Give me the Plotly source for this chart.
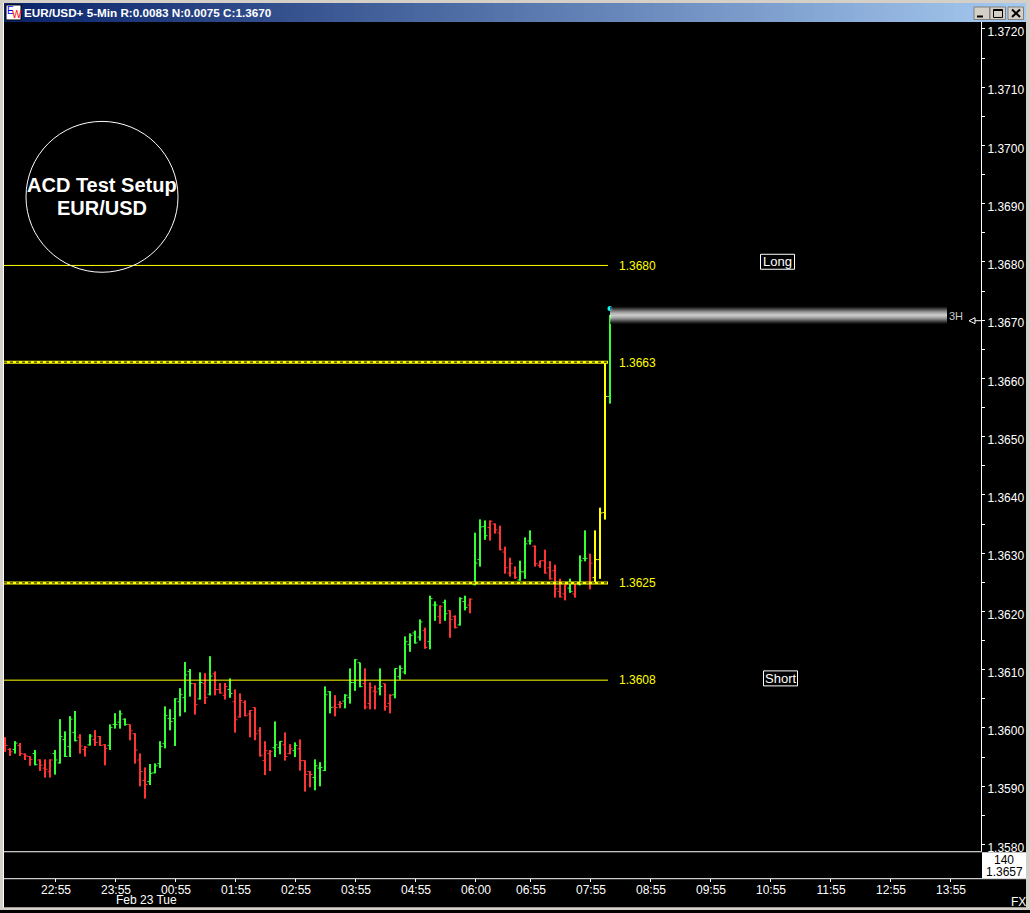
import plotly.graph_objects as go

W, H = 1030, 913
FONT = "Liberation Sans"

# ---------- data ----------
bar_colors = list("rrgrrrgrrr" "gggggrrgrr" "rggggrrrrg" "ggggggggrg" "rgrrrgrrrr"
                  "rrrrggrrgr" "rrggggrrgg" "ggrrrgrrgg" "ggggrggrgr" "rggrgggrrr"
                  "rrrgggrrrr" "rrrgrggryy" "yg")

highs = [1.35984,1.35965,1.35977,1.35974,1.35956,1.35951,1.35962,1.35946,1.35946,1.35946,
         1.35962,1.36015,1.35994,1.36020,1.36029,1.35989,1.35969,1.35989,1.35996,1.35986,
         1.35972,1.36006,1.36025,1.36030,1.36016,1.36006,1.35991,1.35956,1.35932,1.35938,
         1.35939,1.35977,1.36037,1.36032,1.36051,1.36068,1.36113,1.36101,1.36077,1.36095,
         1.36094,1.36123,1.36097,1.36077,1.36077,1.36085,1.36066,1.36059,1.36047,1.36030,
         1.36035,1.36001,1.35977,1.35962,1.36011,1.35977,1.35992,1.35972,1.35975,1.35980,
         1.35944,1.35926,1.35946,1.35941,1.36071,1.36063,1.36056,1.36046,1.36058,1.36102,
         1.36118,1.36112,1.36102,1.36078,1.36073,1.36102,1.36076,1.36058,1.36102,1.36107,
         1.36157,1.36162,1.36167,1.36186,1.36172,1.36227,1.36217,1.36210,1.36220,1.36202,
         1.36193,1.36224,1.36227,1.36222,1.36335,1.36358,1.36356,1.36356,1.36351,1.36347,
         1.36311,1.36292,1.36277,1.36287,1.36327,1.36339,1.36313,1.36287,1.36306,1.36286,
         1.36280,1.36256,1.36246,1.36256,1.36250,1.36296,1.36339,1.36299,1.36339,1.36378,
         1.36627,1.36709]
lows = [1.35959,1.35952,1.35956,1.35952,1.35945,1.35935,1.35936,1.35926,1.35915,1.35915,
        1.35920,1.35939,1.35950,1.35950,1.35977,1.35956,1.35951,1.35970,1.35969,1.35969,
        1.35936,1.35962,1.35999,1.35999,1.36004,1.35979,1.35939,1.35900,1.35879,1.35902,
        1.35922,1.35931,1.35965,1.35996,1.35969,1.36020,1.36027,1.36054,1.36023,1.36049,
        1.36041,1.36056,1.36056,1.36059,1.36049,1.36052,1.35992,1.36018,1.36020,1.35984,
        1.35979,1.35951,1.35919,1.35926,1.35950,1.35955,1.35944,1.35955,1.35950,1.35927,
        1.35891,1.35898,1.35893,1.35900,1.35926,1.36025,1.36020,1.36034,1.36034,1.36042,
        1.36064,1.36070,1.36032,1.36032,1.36032,1.36056,1.36030,1.36025,1.36051,1.36083,
        1.36092,1.36131,1.36145,1.36150,1.36136,1.36135,1.36184,1.36179,1.36184,1.36155,
        1.36171,1.36176,1.36202,1.36197,1.36245,1.36277,1.36323,1.36322,1.36334,1.36305,
        1.36265,1.36260,1.36256,1.36253,1.36256,1.36315,1.36277,1.36275,1.36265,1.36255,
        1.36224,1.36224,1.36219,1.36232,1.36224,1.36245,1.36286,1.36238,1.36249,1.36256,
        1.36358,1.36557]
opens = [1.35980,1.35963,1.35963,1.35970,1.35955,1.35951,1.35956,1.35945,1.35931,1.35925,
         1.35956,1.35940,1.35980,1.35968,1.35992,1.35984,1.35963,1.35971,1.35980,1.35985,
         1.35971,1.35970,1.36006,1.36010,1.36015,1.36006,1.35990,1.35945,1.35910,1.35908,
         1.35923,1.35939,1.35973,1.36016,1.36016,1.36045,1.36052,1.36097,1.36076,1.36050,
         1.36076,1.36058,1.36093,1.36066,1.36056,1.36066,1.36045,1.36019,1.36044,1.36024,
         1.36035,1.35995,1.35944,1.35956,1.35966,1.35966,1.35971,1.35956,1.35961,1.35964,
         1.35944,1.35925,1.35915,1.35931,1.35927,1.36062,1.36036,1.36040,1.36046,1.36052,
         1.36078,1.36112,1.36076,1.36042,1.36063,1.36067,1.36076,1.36042,1.36057,1.36088,
         1.36096,1.36143,1.36163,1.36156,1.36167,1.36148,1.36211,1.36191,1.36215,1.36201,
         1.36191,1.36177,1.36217,1.36211,1.36246,1.36289,1.36346,1.36344,1.36350,1.36335,
         1.36302,1.36266,1.36266,1.36254,1.36268,1.36321,1.36312,1.36279,1.36287,1.36275,
         1.36270,1.36234,1.36230,1.36240,1.36230,1.36246,1.36291,1.36249,1.36258,1.36289,
         1.36370,1.36569]
closes = [1.35970,1.35959,1.35974,1.35956,1.35952,1.35946,1.35937,1.35936,1.35929,1.35945,
          1.35945,1.35985,1.35951,1.36015,1.35978,1.35969,1.35967,1.35986,1.35975,1.35970,
          1.35965,1.36001,1.36006,1.36024,1.36006,1.35995,1.35962,1.35925,1.35903,1.35922,
          1.35935,1.35968,1.36021,1.36011,1.36050,1.36057,1.36091,1.36076,1.36040,1.36078,
          1.36052,1.36089,1.36066,1.36060,1.36071,1.36059,1.36014,1.36047,1.36021,1.36030,
          1.35990,1.35953,1.35961,1.35960,1.35971,1.35977,1.35951,1.35964,1.35970,1.35944,
          1.35920,1.35920,1.35935,1.35932,1.36057,1.36035,1.36035,1.36042,1.36056,1.36078,
          1.36117,1.36071,1.36036,1.36069,1.36062,1.36071,1.36037,1.36056,1.36102,1.36102,
          1.36148,1.36159,1.36146,1.36182,1.36138,1.36222,1.36211,1.36209,1.36196,1.36186,
          1.36172,1.36222,1.36207,1.36221,1.36283,1.36345,1.36330,1.36355,1.36340,1.36306,
          1.36275,1.36282,1.36258,1.36268,1.36316,1.36321,1.36282,1.36287,1.36266,1.36256,
          1.36239,1.36225,1.36246,1.36234,1.36249,1.36287,1.36291,1.36283,1.36289,1.36369,
          1.36569,1.36704]

last_tick_high = 1.36720

x_tick_pos = [10, 22, 34, 46, 58, 70, 82, 94, 105, 117, 129, 141, 153, 165, 177, 189]
x_tick_labels = ["22:55","23:55","00:55","01:55","02:55","03:55","04:55","06:00",
                 "06:55","07:55","08:55","09:55","10:55","11:55","12:55","13:55"]
y_ticks = [1.3720,1.3710,1.3700,1.3690,1.3680,1.3670,1.3660,1.3650,1.3640,
           1.3630,1.3620,1.3610,1.3600,1.3590,1.3580]

thin_levels = [(1.36794, "#FFFF00", "1.3680"), (1.36082, "#FFFF00", "1.3608")]
double_levels = [(1.36628, "1.3663"), (1.36249, "1.3625")]
level_end = 120.6
glow_greys = [25,55,90,125,160,190,215,235,250,235,215,190,160,125,90,55,25]

COLORS = {"g": "#33FF33", "r": "#FF3333", "y": "#FFFF00"}

# ---------- helpers ----------
Y_FIT = 1.0024   # the photographed page came out slightly compressed vertically
def px(x): return x / W
def py(y): return max(0.0, 1 - y * Y_FIT / H)

shapes, annotations = [], []

def rect(x0, y0, x1, y1, fill, line=None, lw=1):
    shapes.append(dict(type="rect", xref="paper", yref="paper", x0=px(x0), x1=px(x1),
                       y0=py(y0), y1=py(y1), fillcolor=fill, layer="above",
                       line=dict(color=line, width=lw) if line else dict(width=0)))

def seg(x0, y0, x1, y1, color, lw=1):
    shapes.append(dict(type="line", xref="paper", yref="paper", x0=px(x0), x1=px(x1),
                       y0=py(y0), y1=py(y1), layer="above", line=dict(color=color, width=lw)))

def label(x, y, text, size=12, color="white", anchor="center", bold=False, family=FONT):
    annotations.append(dict(xref="paper", yref="paper", x=px(x), y=py(y), text=f"<b>{text}</b>" if bold else text,
                            showarrow=False, xanchor=anchor, yanchor="middle", borderpad=0, borderwidth=0,
                            font=dict(family=family, size=size, color=color)))

# ---------- traces ----------
fig = go.Figure()
idx = list(range(len(highs)))
for code, col in COLORS.items():
    ks = [k for k in idx if bar_colors[k] == code]
    fig.add_trace(go.Ohlc(x=ks, open=[opens[k] for k in ks], high=[highs[k] for k in ks],
                          low=[lows[k] for k in ks], close=[closes[k] for k in ks], tickwidth=0.5,
                          increasing=dict(line=dict(color=col, width=1)),
                          decreasing=dict(line=dict(color=col, width=1)),
                          hoverinfo="skip", showlegend=False))
    sx, sy = [], []
    for k in ks:
        sx += [k, k, None]
        sy += [lows[k], highs[k], None]
    fig.add_trace(go.Scatter(x=sx, y=sy, mode="lines", line=dict(color=col, width=2),
                             hoverinfo="skip", showlegend=False))
fig.add_trace(go.Scatter(x=[idx[-1]], y=[last_tick_high], mode="markers",
                         marker=dict(color="#00FFFF", size=5), hoverinfo="skip", showlegend=False))

# ---------- price levels ----------
def hline(price, color, width, dash="solid"):
    shapes.append(dict(type="line", xref="x", yref="y", x0=-0.2, x1=level_end, y0=price, y1=price,
                       layer="above", line=dict(color=color, width=width, dash=dash)))

for price, color, txt in thin_levels:
    hline(price, color, 1)
for price, txt in double_levels:
    hline(price, "#FFFF00", 3)
    hline(price, "#000000", 1, "3px,3px")

label(619, 266, "1.3680", color="#FFFF00", anchor="left")
label(619, 363, "1.3663", color="#FFFF00", anchor="left")
label(619, 584, "1.3625", color="#FFFF00", anchor="left")
label(619, 681, "1.3608", color="#FFFF00", anchor="left")

# ---------- drawn annotations on the chart ----------
shapes.append(dict(type="circle", xref="paper", yref="paper", x0=px(26), x1=px(178), y0=py(121.5), y1=py(272.5),
                   line=dict(color="white", width=1), layer="above"))
label(102, 185, "ACD Test Setup", size=20, bold=True)
label(102, 208, "EUR/USD", size=20, bold=True)

rect(760.5, 254.5, 794.5, 269.5, "rgba(0,0,0,0)", "white")
label(777.5, 262, "Long", size=13)
rect(763.5, 671.5, 797.5, 686.5, "rgba(0,0,0,0)", "white")
label(780.5, 679, "Short", size=13)

for i, g in enumerate(glow_greys):
    rect(610, 307 + i, 947, 308 + i, f"rgb({g},{g},{g})")
label(956, 316, "3H", size=11, color="#CCCCCC")
shapes.append(dict(type="path", xref="paper", yref="paper", layer="above",
                   path=f"M {px(969)} {py(321)} L {px(975)} {py(318)} L {px(975)} {py(324)} Z",
                   line=dict(color="white", width=1)))
seg(975, 321, 981, 321, "white")

# ---------- frame lines / side panel ----------
seg(4, 852.5, 982, 852.5, "white")
seg(4, 879.5, 1026, 879.5, "white")
rect(982, 853, 1026, 879, "white")
label(1004, 861, "140", color="black")
label(1004, 873, "1.3657", color="black")
label(1018, 903, "FX")
label(146, 901, "Feb 23 Tue")

# ---------- window chrome ----------
rect(0, 0, 4, H, "#D4D0C8")
seg(3.5, 3, 3.5, 909, "#FFFFFF")
rect(1026, 0, W, H, "#D4D0C8")
rect(0, 908, W, H, "#D4D0C8")
rect(0, 911, W, H, "#808080")
rect(0, 0, W, 3, "#D4D0C8")
n = 103
c0, c1 = (10, 36, 106), (166, 202, 240)
for i in range(n):
    t = i / (n - 1)
    c = [round(a + (b - a) * t) for a, b in zip(c0, c1)]
    rect(4 + i * 10, 3, min(14 + i * 10, 1026), 22, f"rgb({c[0]},{c[1]},{c[2]})")

rect(6, 5, 21, 20, "white", "black")
label(10.5, 11, "E", size=10, color="#0000FF")
label(16.5, 15, "W", size=10, color="#FF0000")
label(24, 13, "EUR/USD+ 5-Min R:0.0083 N:0.0075 C:1.3670", size=11.7, bold=True, anchor="left")

for bx0, bx1 in [(974, 989.5), (990, 1005.5), (1008, 1023.5)]:
    rect(bx0, 7, bx1, 19.5, "#D4D0C8", "#808080")
seg(977, 16.5, 983, 16.5, "black", 2)
rect(993.5, 9.5, 1002.5, 17.5, "rgba(0,0,0,0)", "black", 1)
seg(993.5, 10, 1002.5, 10, "black", 2)
seg(1012, 9.5, 1020, 17, "black", 2)
seg(1020, 9.5, 1012, 17, "black", 2)

# ---------- layout ----------
top_px, bottom_px, axis_px = 22, 852, 879
price_top = 1.37212
price_bottom = 1.357883

fig.update_layout(
    width=W, height=H, margin=dict(l=0, r=0, t=0, b=0), autosize=False,
    paper_bgcolor="black", plot_bgcolor="black", showlegend=False, hovermode=False,
    font=dict(family=FONT, size=12, color="white"),
    shapes=shapes, annotations=annotations,
    xaxis=dict(domain=[px(4), px(981)], range=[-0.2, 195.2], anchor="free", position=py(axis_px),
               tickmode="array", tickvals=x_tick_pos, ticktext=x_tick_labels, ticks="outside",
               ticklen=3, tickcolor="white", tickwidth=1, showgrid=False, zeroline=False,
               showline=False, rangeslider=dict(visible=False), tickangle=0,
               ticklabelstandoff=-3, ticklabelshift=1,
               tickfont=dict(family=FONT, size=12, color="white")),
    yaxis=dict(domain=[py(bottom_px), py(top_px)], range=[price_bottom, price_top], side="right", anchor="x",
               tickmode="array", tickvals=y_ticks, tickformat=".4f", ticks="outside", ticklen=3,
               tickcolor="white", tickwidth=1, showgrid=False, zeroline=False, showline=True,
               linecolor="white", linewidth=1, ticklabelshift=3,
               minor=dict(dtick=0.0005, tick0=1.3, ticks="outside", ticklen=3, tickcolor="white", tickwidth=1, showgrid=False),
               tickfont=dict(family=FONT, size=12, color="white")),
)

fig.write_html("out.html", config={"displayModeBar": False},
               post_script="var r=document.documentElement,b=document.body;r.style.margin='0';r.style.overflow='hidden';r.style.height='913px';"
                           "b.style.margin='0';b.style.padding='0';b.style.overflow='hidden';b.style.height='913px';"
                           "window.dispatchEvent(new Event('resize'));")
